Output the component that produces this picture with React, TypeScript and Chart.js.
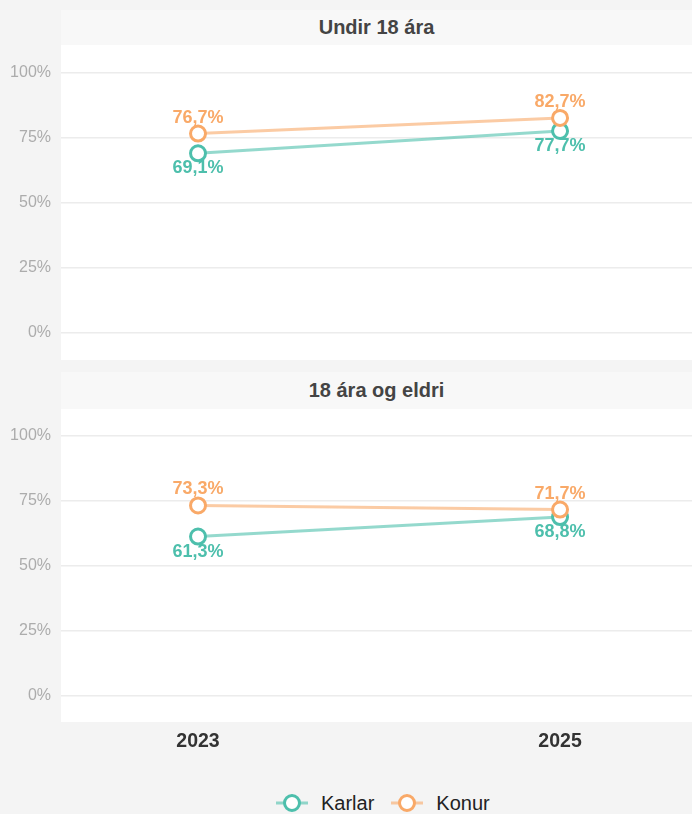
import React, { useEffect, useRef } from "react";
import { Chart, registerables } from "chart.js";

Chart.register(...registerables);

const years = [2023, 2025];
const panelTitles = ["Undir 18 ára", "18 ára og eldri"];
const seriesNames = ["Karlar", "Konur"];
const karlarUnder18 = [69.1, 77.7];
const konurUnder18 = [76.7, 82.7];
const karlarAdult = [61.3, 68.8];
const konurAdult = [73.3, 71.7];
const yTicks = [0, 25, 50, 75, 100];

const FONT = '"Liberation Sans", Arial, Helvetica, sans-serif';
const TEAL = "#4dbfac";
const TEAL_LINE = "rgba(77,191,172,0.6)";
const ORANGE = "#f9a968";
const ORANGE_LINE = "rgba(249,169,104,0.6)";

const fmt = (v: number) => v.toFixed(1).replace(".", ",") + "%";

const areaBg = {
  id: "areaBg",
  beforeDraw(chart: any) {
    const { ctx, chartArea: a } = chart;
    ctx.save();
    ctx.fillStyle = "#ffffff";
    ctx.fillRect(a.left, a.top, a.right - a.left, a.bottom - a.top);
    ctx.restore();
  },
};

const valueLabels = {
  id: "valueLabels",
  afterDatasetsDraw(chart: any) {
    const ctx = chart.ctx;
    chart.data.datasets.forEach((ds: any, i: number) => {
      const meta = chart.getDatasetMeta(i);
      const above = ds.label === seriesNames[1];
      const off = above ? -16 : 15;
      ctx.save();
      ctx.font = `bold 18px ${FONT}`;
      ctx.fillStyle = ds.borderColor;
      ctx.textAlign = "center";
      ctx.textBaseline = "middle";
      meta.data.forEach((pt: any, j: number) => {
        ctx.fillText(fmt(ds.data[j].y), pt.x, pt.y + off);
      });
      ctx.restore();
    });
  },
};

type PanelProps = {
  karlar: number[];
  konur: number[];
  showX: boolean;
  yMin: number;
  yMax: number;
  width: number;
  height: number;
  top: number;
};

function Panel({ karlar, konur, showX, yMin, yMax, width, height, top }: PanelProps) {
  const ref = useRef<HTMLCanvasElement | null>(null);
  useEffect(() => {
    if (!ref.current) return;
    const chart = new Chart(ref.current, {
      type: "line",
      data: {
        datasets: [
          {
            label: seriesNames[0],
            data: years.map((x, i) => ({ x, y: karlar[i] })),
            borderColor: TEAL,
            backgroundColor: "#ffffff",
            pointBorderColor: TEAL,
            pointBackgroundColor: "#ffffff",
            pointRadius: 7.5,
            pointBorderWidth: 3,
            borderWidth: 3,
            segment: { borderColor: () => TEAL_LINE },
            order: 2,
          } as any,
          {
            label: seriesNames[1],
            data: years.map((x, i) => ({ x, y: konur[i] })),
            borderColor: ORANGE,
            backgroundColor: "#ffffff",
            pointBorderColor: ORANGE,
            pointBackgroundColor: "#ffffff",
            pointRadius: 7.5,
            pointBorderWidth: 3,
            borderWidth: 3,
            segment: { borderColor: () => ORANGE_LINE },
            order: 1,
          } as any,
        ],
      },
      options: {
        responsive: false,
        animation: false,
        layout: { padding: 0, autoPadding: false },
        plugins: {
          legend: { display: false },
          tooltip: { enabled: false },
        },
        scales: {
          x: {
            type: "linear",
            display: showX,
            min: 2022.243,
            max: 2025.729,
            grid: { display: false, drawTicks: false },
            border: { display: false },
            afterBuildTicks: (s: any) => {
              s.ticks = years.map((v) => ({ value: v }));
            },
            afterFit: (s: any) => {
              if (showX) s.height = 37;
              s.paddingLeft = 0;
              s.paddingRight = 0;
            },
            ticks: {
              padding: 8,
              color: "#333333",
              font: { family: FONT, size: 19.5, weight: "bold" },
              callback: (v: any) => String(v),
              maxRotation: 0,
            },
          },
          y: {
            type: "linear",
            min: yMin,
            max: yMax,
            grid: { color: "#ececec", lineWidth: 1.5, drawTicks: false },
            border: { display: false },
            afterBuildTicks: (s: any) => {
              s.ticks = yTicks.map((v) => ({ value: v }));
            },
            afterFit: (s: any) => {
              s.width = 61;
              s.paddingTop = 0;
              s.paddingBottom = 0;
            },
            ticks: {
              padding: 10,
              color: "#acacac",
              font: { family: FONT, size: 16 },
              callback: (v: any) => v + "%",
            },
          },
        },
      },
      plugins: [areaBg, valueLabels],
    });
    return () => chart.destroy();
  }, []);
  return (
    <canvas
      ref={ref}
      width={width}
      height={height}
      style={{ position: "absolute", left: 0, top, width, height }}
    />
  );
}

function Header({ title, top, height }: { title: string; top: number; height: number }) {
  return (
    <div
      style={{
        position: "absolute",
        left: 61,
        top,
        width: 631,
        height,
        background: "#f8f8f8",
        color: "#444444",
        fontFamily: FONT,
        fontWeight: "bold",
        fontSize: 20,
        display: "flex",
        alignItems: "center",
        justifyContent: "center",
      }}
    >
      {title}
    </div>
  );
}

function LegendMarker({ color, line }: { color: string; line: string }) {
  return (
    <svg width={32} height={20} style={{ display: "block" }}>
      <line x1={0} y1={10} x2={32} y2={10} stroke={line} strokeWidth={3} />
      <circle cx={16} cy={10} r={7.5} fill="#ffffff" stroke={color} strokeWidth={3} />
    </svg>
  );
}

export default function App() {
  useEffect(() => {
    document.body.style.margin = "0";
    document.body.style.background = "#f4f4f4";
  }, []);
  return (
    <div
      style={{
        position: "relative",
        width: 692,
        height: 814,
        background: "#f4f4f4",
        overflow: "hidden",
        fontFamily: FONT,
      }}
    >
      <Header title={panelTitles[0]} top={10} height={35} />
      <Panel
        karlar={karlarUnder18}
        konur={konurUnder18}
        showX={false}
        yMin={-10.38}
        yMax={110.77}
        width={692}
        height={315}
        top={45}
      />
      <Header title={panelTitles[1]} top={372} height={37} />
      <Panel
        karlar={karlarAdult}
        konur={konurAdult}
        showX={true}
        yMin={-10}
        yMax={110.38}
        width={692}
        height={350}
        top={409}
      />
      <div
        style={{
          position: "absolute",
          left: 276,
          top: 790,
          height: 26,
          display: "flex",
          alignItems: "center",
          fontSize: 20,
          color: "#222222",
        }}
      >
        <LegendMarker color={TEAL} line={TEAL_LINE} />
        <span style={{ marginLeft: 13, marginRight: 17 }}>{seriesNames[0]}</span>
        <LegendMarker color={ORANGE} line={ORANGE_LINE} />
        <span style={{ marginLeft: 13 }}>{seriesNames[1]}</span>
      </div>
    </div>
  );
}
